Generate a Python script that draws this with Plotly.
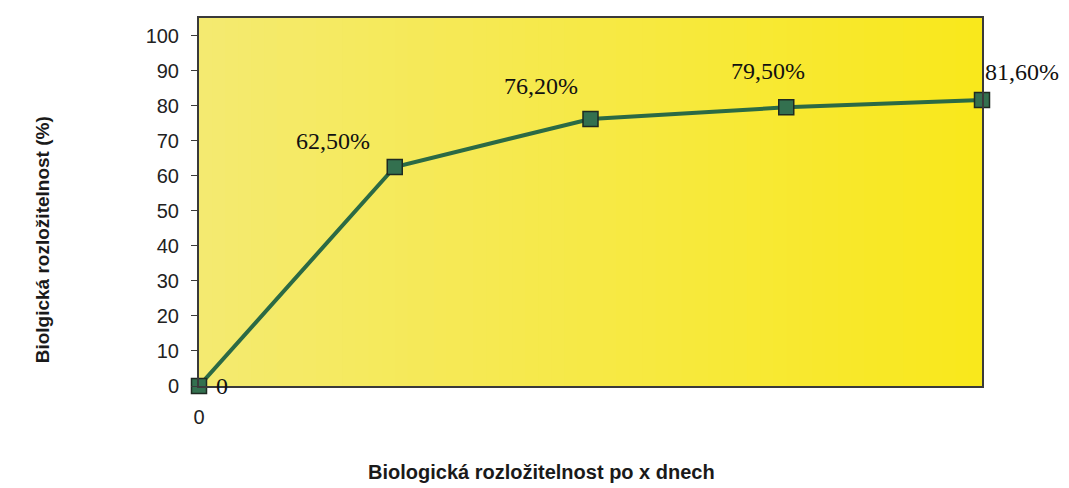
import plotly.graph_objects as go

# Data
x_vals = [0, 1, 2, 3, 4]
y_vals = [0, 62.5, 76.2, 79.5, 81.6]
labels = ["0", "62,50%", "76,20%", "79,50%", "81,60%"]
y_ticks = list(range(0, 101, 10))
x_tick_vals = [0]
x_tick_text = ["0"]

# label offsets (pixels) per point: (xshift, yshift)
label_offsets = [(23, 0), (-62, 26), (-50, 33), (-18, 36), (40, 28)]

fig = go.Figure()

# gradient background strips
n = 60
c0 = (244, 234, 112)
c1 = (249, 232, 28)
for i in range(n):
    t = i / (n - 1)
    col = tuple(int(round(c0[k] + (c1[k] - c0[k]) * t)) for k in range(3))
    fig.add_shape(type="rect", xref="x domain", yref="y domain",
                  x0=i / n, x1=(i + 1) / n + 0.002, y0=0, y1=1,
                  fillcolor=f"rgb{col}", line_width=0, layer="below")

fig.add_trace(go.Scatter(
    x=x_vals, y=y_vals, mode="lines+markers",
    line=dict(color="#2b6a45", width=4),
    marker=dict(symbol="square", size=15, color="#33704f",
                line=dict(color="#1e2a22", width=1.5)),
    cliponaxis=False, showlegend=False, hoverinfo="skip",
))

for xv, yv, lab, (dx, dy) in zip(x_vals, y_vals, labels, label_offsets):
    fig.add_annotation(x=xv, y=yv, xref="x", yref="y", text=lab,
                       showarrow=False, xshift=dx, yshift=dy,
                       font=dict(family="Liberation Serif", size=24, color="#111111"))

fig.add_annotation(text="<b>Biologická rozložitelnost po x dnech</b>",
                   xref="paper", yref="paper", x=0.437, y=-0.235,
                   xanchor="center", yanchor="middle", showarrow=False,
                   font=dict(family="Liberation Sans", size=20, color="#1a1a1a"))
fig.add_annotation(text="<b>Biolgická rozložitelnost (%)</b>",
                   xref="paper", yref="paper", x=-0.2005, y=0.396, textangle=-90,
                   xanchor="center", yanchor="middle", showarrow=False,
                   font=dict(family="Liberation Sans", size=19, color="#1a1a1a"))

fig.update_layout(
    width=1069, height=488,
    margin=dict(l=191, r=95, t=10, b=110, autoexpand=False),
    paper_bgcolor="white", plot_bgcolor="#f4e550",
    font=dict(family="Liberation Sans", size=20, color="#222222"),
    xaxis=dict(range=[0, 4], tickvals=x_tick_vals, ticktext=x_tick_text,
               ticks="", showgrid=False, zeroline=False, showline=True,
               linecolor="#3a3a3a", linewidth=2, mirror=True, automargin=False,
               ticklabelstandoff=12, tickfont=dict(size=20, color="#222222")),
    yaxis=dict(range=[0, 105], tickvals=y_ticks, ticks="outside", ticklen=6,
               tickcolor="#3a3a3a", showgrid=False, zeroline=False, automargin=False,
               showline=True, linecolor="#3a3a3a", linewidth=2, mirror=True,
               ticklabelstandoff=8, tickfont=dict(size=20, color="#222222")),
)

fig.write_html("out.html")
